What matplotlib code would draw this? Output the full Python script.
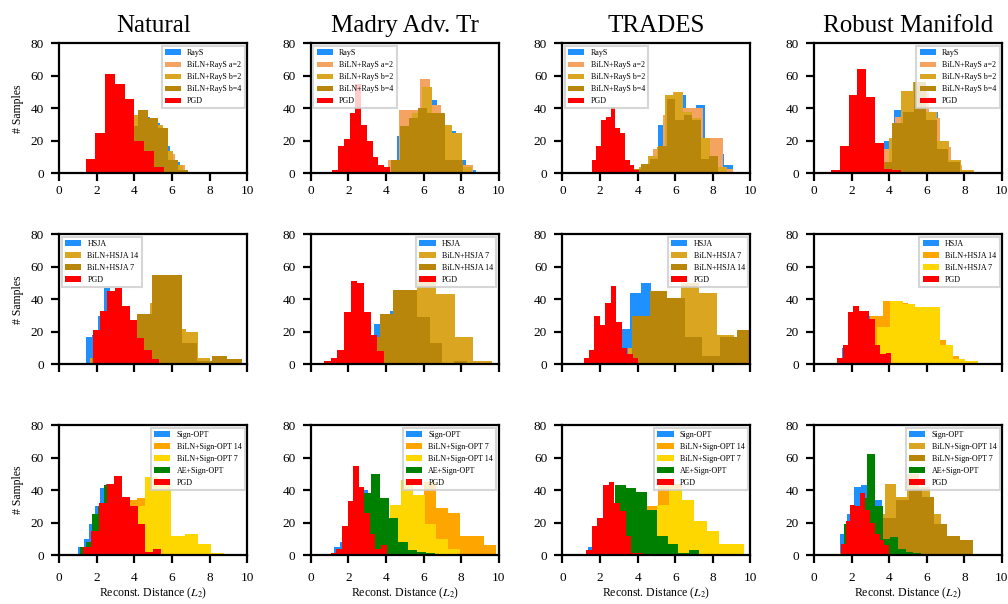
import numpy as np
import matplotlib
matplotlib.use("Agg")
import matplotlib.pyplot as plt

# ---------------- histogram data: bin counts and (first edge, last edge) ----------------
# Row 1: RayS attacks
nat_rays = [1, 4, 10, 20, 28, 30, 35, 31, 17, 7];        nat_rays_span = (1.2, 6.4)
nat_rays_a2 = [1, 4, 10, 20, 27, 34, 33, 28, 12, 5];     nat_rays_a2_span = (1.3, 6.7)
nat_rays_b2 = [1, 5, 12, 22, 30, 36, 34, 30, 14, 5];     nat_rays_b2_span = (1.1, 6.6)
nat_rays_b4 = [1, 3, 8, 12, 29, 39, 34, 28, 8, 2];       nat_rays_b4_span = (1.55, 6.85)
nat_pgd1 = [1, 9, 25, 61, 55, 46, 20, 14, 4];            nat_pgd1_span = (0.89, 5.55)

mad_rays = [23, 30, 38, 45, 30, 26, 8, 2];               mad_rays_span = (4.6, 8.8)
mad_rays_a2 = [8, 39, 39, 58, 42, 25, 10, 5, 1];         mad_rays_a2_span = (4.1, 9.19)
mad_rays_b2 = [3, 22, 37, 53, 37, 30, 25, 4];            mad_rays_b2_span = (4.34, 8.6)
mad_rays_b4 = [8, 29, 34, 40, 37, 37, 8, 8];             mad_rays_b4_span = (4.25, 8.09)
mad_pgd1 = [2, 17, 21, 37, 55, 30, 20, 10, 5, 4];        mad_pgd1_span = (1.15, 4.21)

trd_rays = [10, 30, 45, 48, 40, 42, 19, 12, 5];          trd_rays_span = (4.6, 9.1)
trd_rays_a2 = [5, 15, 36, 50, 40, 40, 22, 22, 3];        trd_rays_a2_span = (4.3, 9.1)
trd_rays_b2 = [4, 11, 16, 48, 50, 38, 34, 22, 11, 4];    trd_rays_b2_span = (4.07, 8.77)
trd_rays_b4 = [3, 6, 9, 17, 46, 33, 36, 33, 9, 11];      trd_rays_b4_span = (3.73, 8.26)
trd_pgd1 = [8, 17, 33, 35, 41, 28, 25, 8, 5, 2];         trd_pgd1_span = (1.56, 4.07)

rob_rays = [20, 39, 45, 52, 38, 14, 5];                  rob_rays_span = (3.7, 7.76)
rob_rays_a2 = [15, 35, 46, 50, 34, 16, 5, 2];            rob_rays_a2_span = (3.7, 8.5)
rob_rays_b2 = [5, 22, 51, 56, 38, 20, 8, 2];             rob_rays_b2_span = (3.36, 8.48)
rob_rays_b4 = [1, 2, 7, 31, 38, 56, 33, 15, 7];          rob_rays_b4_span = (2.31, 7.75)
rob_pgd1 = [2, 17, 48, 64, 47, 19, 3, 2, 0, 1];          rob_pgd1_span = (0.906, 5.56)

# Row 2: HSJA attacks
nat_hsja = [17, 18, 30, 47, 40, 35, 25, 12, 5, 2];       nat_hsja_span = (1.42, 4.62)
nat_hsja14 = [4, 12, 20, 25, 30, 38, 30, 22, 20, 4];     nat_hsja14_span = (1.66, 8.0)
nat_hsja7 = [4, 20, 25, 31, 55, 55, 13, 2, 5, 3];        nat_hsja7_span = (1.72, 9.72)
nat_pgd2 = [21, 33, 45, 47, 36, 27, 16, 9, 3, 1];        nat_pgd2_span = (1.77, 5.71)

mad_hsja = [5, 12, 17, 25, 31, 33, 30, 28, 20, 8];       mad_hsja_span = (2.05, 6.35)
mad_hsja7 = [12, 35, 52, 43, 17, 2];                     mad_hsja7_span = (3.65, 9.65)
mad_hsja14 = [17, 31, 46, 46, 29, 13, 0, 2];             mad_hsja14_span = (3.05, 8.29)
mad_pgd2 = [2, 4, 9, 32, 51, 50, 32, 18, 8, 1];          mad_pgd2_span = (0.69, 4.25)

trd_hsja = [5, 22, 44, 50, 44, 40, 28, 15, 8, 4];        trd_hsja_span = (2.52, 7.97)
trd_hsja7 = [10, 25, 35, 50, 44, 18, 16];                trd_hsja7_span = (3.5, 10.08)
trd_hsja14 = [30, 45, 41, 17, 5, 17, 21];                trd_hsja14_span = (3.71, 10.22)
trd_pgd2 = [4, 9, 30, 24, 38, 48, 26, 10, 6, 4];         trd_pgd2_span = (1.12, 4.02)

rob_hsja = [10, 28, 30, 36, 30, 20, 10, 5, 2, 1];        rob_hsja_span = (1.49, 8.79)
rob_hsja14 = [5, 30, 39, 38, 35, 30, 15, 5];             rob_hsja14_span = (2.31, 7.71)
rob_hsja7 = [5, 23, 39, 37, 35, 35, 12, 3, 2];           rob_hsja7_span = (2.7, 8.73)
rob_pgd2 = [4, 12, 32, 36, 33, 33, 28, 12, 6, 7];        rob_pgd2_span = (1.24, 4.09)

# Row 3: Sign-OPT attacks
nat_sopt = [5, 10, 19, 30, 41, 44, 40, 30, 15, 5];       nat_sopt_span = (0.99, 4.0)
nat_sopt14 = [2, 8, 15, 22, 30, 34, 35, 30, 20, 8];      nat_sopt14_span = (1.6, 5.8)
nat_sopt7 = [5, 30, 48, 45, 12, 13, 7, 1];               nat_sopt7_span = (3.17, 8.77)
nat_ae = [5, 8, 25, 30, 43, 40, 35, 25, 15, 5];          nat_ae_span = (1.1, 4.3)
nat_pgd3 = [5, 15, 32, 44, 49, 36, 30, 19, 2, 4];        nat_pgd3_span = (1.28, 5.41)

mad_sopt = [5, 8, 15, 25, 35, 40, 38, 30, 15, 5];        mad_sopt_span = (1.25, 4.25)
mad_sopt7 = [5, 20, 35, 45, 29, 26, 12, 12, 6];          mad_sopt7_span = (4.12, 9.85)
mad_sopt14 = [10, 31, 46, 37, 19, 10, 4];                mad_sopt14_span = (3.58, 7.92)
mad_ae = [20, 38, 50, 35, 23, 8, 3, 2, 1];               mad_ae_span = (2.23, 6.61)
mad_pgd3 = [1, 4, 18, 33, 55, 42, 26, 13, 4, 6];         mad_pgd3_span = (1.06, 4.03)

trd_sopt = [5, 12, 20, 22, 30, 30, 28, 20, 10, 3];       trd_sopt_span = (1.35, 4.35)
trd_sopt14 = [3, 10, 20, 30, 44, 44, 30, 20, 10, 5];     trd_sopt14_span = (2.54, 8.94)
trd_sopt7 = [5, 15, 31, 41, 34, 21, 15, 7, 7];           trd_sopt7_span = (3.71, 9.65)
trd_ae = [25, 43, 41, 39, 28, 12, 7, 1, 3];              trd_ae_span = (2.25, 7.29)
trd_pgd3 = [3, 18, 23, 43, 45, 32, 27, 12, 1, 1];        trd_pgd3_span = (1.26, 4.26)

rob_sopt = [13, 25, 42, 43, 38, 34, 20, 10, 5, 2];       rob_sopt_span = (1.38, 5.08)
rob_sopt14 = [1, 5, 15, 25, 44, 36, 50, 42, 25, 8];      rob_sopt14_span = (1.36, 7.36)
rob_sopt7 = [8, 23, 34, 40, 36, 19, 12, 9];              rob_sopt7_span = (3.0, 8.44)
rob_ae = [19, 25, 35, 62, 30, 10, 11, 4, 2, 1];          rob_ae_span = (1.6, 5.7)
rob_pgd3 = [7, 21, 31, 30, 38, 28, 20, 13, 9, 6];        rob_pgd3_span = (1.42, 4.0)

titles = ["Natural", "Madry Adv. Tr", "TRADES", "Robust Manifold"]
x_ticks = [0, 2, 4, 6, 8, 10]
y_ticks = [0, 20, 40, 60, 80]

BLUE, SAND, GOLD, DGOLD, RED = "#1E90FF", "#F4A460", "#DAA520", "#B8860B", "#FF0000"
ORANGE, YELLOW, GREEN = "#FFA500", "#FFD700", "#008000"

rays_labels = ["RayS", "BiLN+RayS a=2", "BiLN+RayS b=2", "BiLN+RayS b=4", "PGD"]
rays_colors = [BLUE, SAND, GOLD, DGOLD, RED]

grid = [
    # row 1
    [
        (list(zip(rays_labels, rays_colors,
                  [(nat_rays, nat_rays_span), (nat_rays_a2, nat_rays_a2_span),
                   (nat_rays_b2, nat_rays_b2_span), (nat_rays_b4, nat_rays_b4_span),
                   (nat_pgd1, nat_pgd1_span)])), "upper right"),
        (list(zip(rays_labels, rays_colors,
                  [(mad_rays, mad_rays_span), (mad_rays_a2, mad_rays_a2_span),
                   (mad_rays_b2, mad_rays_b2_span), (mad_rays_b4, mad_rays_b4_span),
                   (mad_pgd1, mad_pgd1_span)])), "upper left"),
        (list(zip(rays_labels, rays_colors,
                  [(trd_rays, trd_rays_span), (trd_rays_a2, trd_rays_a2_span),
                   (trd_rays_b2, trd_rays_b2_span), (trd_rays_b4, trd_rays_b4_span),
                   (trd_pgd1, trd_pgd1_span)])), "upper left"),
        (list(zip(rays_labels, rays_colors,
                  [(rob_rays, rob_rays_span), (rob_rays_a2, rob_rays_a2_span),
                   (rob_rays_b2, rob_rays_b2_span), (rob_rays_b4, rob_rays_b4_span),
                   (rob_pgd1, rob_pgd1_span)])), "upper right"),
    ],
    # row 2
    [
        ([("HSJA", BLUE, (nat_hsja, nat_hsja_span)),
          ("BiLN+HSJA 14", GOLD, (nat_hsja14, nat_hsja14_span)),
          ("BiLN+HSJA 7", DGOLD, (nat_hsja7, nat_hsja7_span)),
          ("PGD", RED, (nat_pgd2, nat_pgd2_span))], "upper left"),
        ([("HSJA", BLUE, (mad_hsja, mad_hsja_span)),
          ("BiLN+HSJA 7", GOLD, (mad_hsja7, mad_hsja7_span)),
          ("BiLN+HSJA 14", DGOLD, (mad_hsja14, mad_hsja14_span)),
          ("PGD", RED, (mad_pgd2, mad_pgd2_span))], "upper right"),
        ([("HSJA", BLUE, (trd_hsja, trd_hsja_span)),
          ("BiLN+HSJA 7", GOLD, (trd_hsja7, trd_hsja7_span)),
          ("BiLN+HSJA 14", DGOLD, (trd_hsja14, trd_hsja14_span)),
          ("PGD", RED, (trd_pgd2, trd_pgd2_span))], "upper right"),
        ([("HSJA", BLUE, (rob_hsja, rob_hsja_span)),
          ("BiLN+HSJA 14", ORANGE, (rob_hsja14, rob_hsja14_span)),
          ("BiLN+HSJA 7", YELLOW, (rob_hsja7, rob_hsja7_span)),
          ("PGD", RED, (rob_pgd2, rob_pgd2_span))], "upper right"),
    ],
    # row 3
    [
        ([("Sign-OPT", BLUE, (nat_sopt, nat_sopt_span)),
          ("BiLN+Sign-OPT 14", ORANGE, (nat_sopt14, nat_sopt14_span)),
          ("BiLN+Sign-OPT 7", YELLOW, (nat_sopt7, nat_sopt7_span)),
          ("AE+Sign-OPT", GREEN, (nat_ae, nat_ae_span)),
          ("PGD", RED, (nat_pgd3, nat_pgd3_span))], "upper right"),
        ([("Sign-OPT", BLUE, (mad_sopt, mad_sopt_span)),
          ("BiLN+Sign-OPT 7", ORANGE, (mad_sopt7, mad_sopt7_span)),
          ("BiLN+Sign-OPT 14", YELLOW, (mad_sopt14, mad_sopt14_span)),
          ("AE+Sign-OPT", GREEN, (mad_ae, mad_ae_span)),
          ("PGD", RED, (mad_pgd3, mad_pgd3_span))], "upper right"),
        ([("Sign-OPT", BLUE, (trd_sopt, trd_sopt_span)),
          ("BiLN+Sign-OPT 14", ORANGE, (trd_sopt14, trd_sopt14_span)),
          ("BiLN+Sign-OPT 7", YELLOW, (trd_sopt7, trd_sopt7_span)),
          ("AE+Sign-OPT", GREEN, (trd_ae, trd_ae_span)),
          ("PGD", RED, (trd_pgd3, trd_pgd3_span))], "upper right"),
        ([("Sign-OPT", BLUE, (rob_sopt, rob_sopt_span)),
          ("BiLN+Sign-OPT 14", GOLD, (rob_sopt14, rob_sopt14_span)),
          ("BiLN+Sign-OPT 7", DGOLD, (rob_sopt7, rob_sopt7_span)),
          ("AE+Sign-OPT", GREEN, (rob_ae, rob_ae_span)),
          ("PGD", RED, (rob_pgd3, rob_pgd3_span))], "upper right"),
    ],
]

plt.rcParams.update({
    "font.family": ["Liberation Serif", "DejaVu Serif"],
    "mathtext.fontset": "stix",
    "axes.linewidth": 1.6,
    "xtick.major.width": 1.6,
    "ytick.major.width": 1.6,
    "xtick.major.size": 6,
    "ytick.major.size": 6,
    "xtick.labelsize": 9.5,
    "ytick.labelsize": 9.5,
})

fig, axes = plt.subplots(3, 4, figsize=(10.08, 6.04), dpi=100)
fig.subplots_adjust(left=0.0588, right=0.994, top=0.928, bottom=0.081,
                    wspace=0.339, hspace=0.469)

for r, row in enumerate(grid):
    for c, (series, loc) in enumerate(row):
        ax = axes[r, c]
        for label, color, (counts, (lo, hi)) in series:
            edges = np.linspace(lo, hi, len(counts) + 1)
            ax.hist(edges[:-1], bins=edges, weights=counts, color=color,
                    histtype="stepfilled", label=label, linewidth=0)
        ax.set_xlim(0, 10)
        ax.set_ylim(0, 80)
        ax.set_xticks(x_ticks)
        ax.set_yticks(y_ticks)
        ax.tick_params(axis="y", direction="out", pad=5)
        ax.tick_params(axis="x", direction="out", pad=6 if r == 2 else 2)
        if r == 1:
            ax.tick_params(labelbottom=False)
        if r == 0:
            ax.set_title(titles[c], fontsize=18, pad=8)
        if r == 2:
            ax.set_xlabel(r"Reconst. Distance ($L_2$)", fontsize=8.5, labelpad=1)
        if c == 0:
            ax.set_ylabel("# Samples", fontsize=8.5, labelpad=5)
        leg = ax.legend(loc=loc, fontsize=5.8, framealpha=0.8, edgecolor="0.8",
                        borderaxespad=0.3, handlelength=2.0, labelspacing=0.5,
                        fancybox=False)
        leg.get_frame().set_linewidth(1.5)

fig.savefig("out.png", dpi=100)
